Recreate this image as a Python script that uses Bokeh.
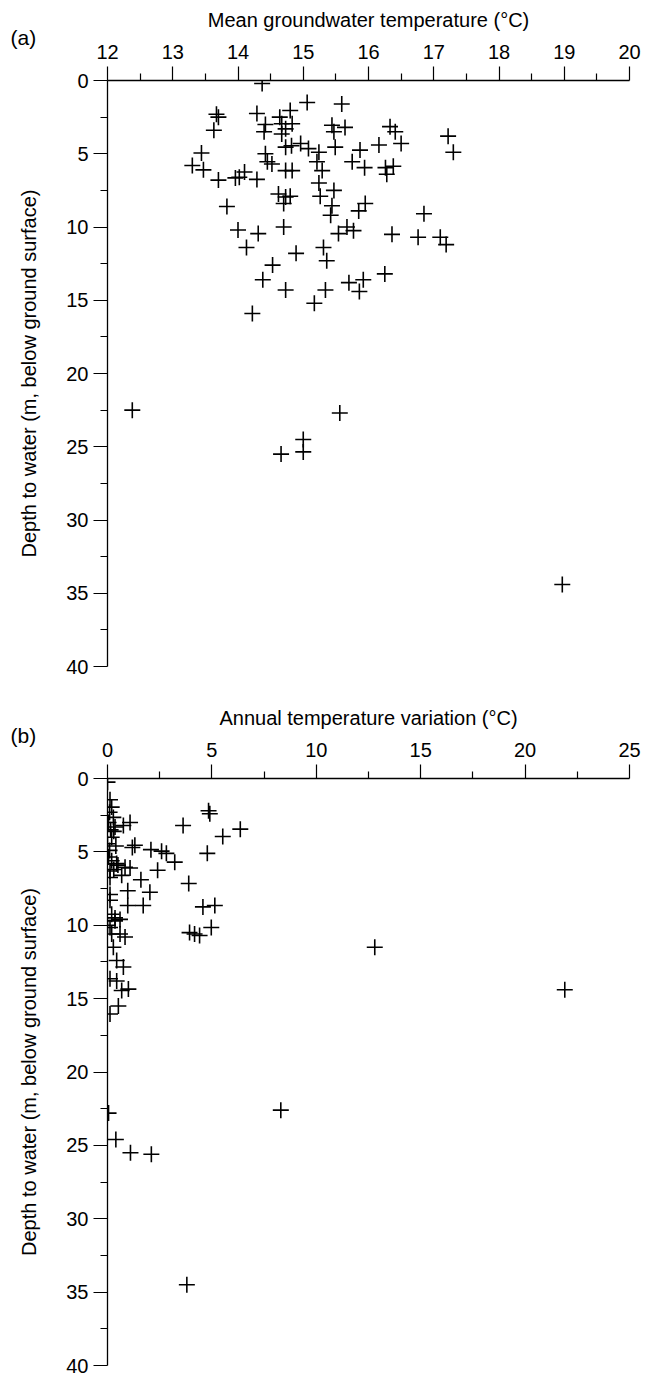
from bokeh.plotting import figure
from bokeh.models import Range1d, FixedTicker, Title
from bokeh.layouts import column
from bokeh.embed import file_html
from bokeh.resources import INLINE

# ---------------- data ----------------
# Panel (a): mean groundwater temperature (deg C) vs depth to water (m)
temp_mean = [14.37, 15.06, 15.59, 13.67, 13.70, 13.63, 14.29, 14.42, 14.40, 14.64,
             14.67, 14.73, 14.80, 14.67, 14.83, 15.44, 15.64, 15.47, 15.49, 15.87,
             16.16, 16.33, 16.41, 16.50, 17.22, 17.30, 13.44, 13.30, 13.47, 13.70,
             13.96, 14.02, 14.10, 14.29, 14.42, 14.45, 14.52, 14.73, 14.83, 14.73,
             14.82, 14.96, 15.08, 15.24, 15.21, 15.29, 15.75, 15.94, 16.26, 16.28,
             16.38, 15.24, 15.26, 15.47, 14.62, 14.73, 14.80, 14.70, 13.83, 15.44,
             15.42, 15.95, 15.85, 16.85, 14.00, 14.31, 14.70, 15.67, 15.77, 15.54,
             16.36, 16.76, 17.10, 17.19, 14.13, 14.89, 15.31, 15.36, 14.53, 14.38,
             14.73, 15.17, 15.34, 14.22, 16.25, 15.70, 15.92, 15.86, 12.38, 15.56,
             14.66, 15.00, 15.00, 18.97]
depth_a = [0.2, 1.5, 1.6, 2.3, 2.5, 3.4, 2.25, 3.0, 3.5, 2.5,
           2.95, 3.3, 2.05, 3.65, 2.95, 3.05, 3.2, 3.5, 4.55, 4.75,
           4.4, 3.15, 3.5, 4.3, 3.8, 4.9, 4.95, 5.8, 6.1, 6.8,
           6.65, 6.6, 6.25, 6.75, 5.0, 5.55, 5.7, 6.15, 6.15, 4.55,
           4.45, 4.3, 4.65, 4.9, 5.55, 6.15, 5.55, 5.95, 5.95, 6.4,
           5.85, 7.0, 7.9, 7.5, 7.75, 7.95, 7.9, 8.4, 8.6, 8.55,
           9.2, 8.4, 8.9, 9.1, 10.2, 10.45, 10.0, 10.0, 10.25, 10.45,
           10.5, 10.7, 10.7, 11.2, 11.4, 11.8, 11.4, 12.3, 12.6, 13.6,
           14.3, 15.2, 14.3, 15.9, 13.2, 13.8, 13.6, 14.4, 22.5, 22.7,
           25.5, 24.5, 25.35, 34.4]

# Panel (b): annual temperature variation (deg C) vs depth to water (m)
temp_var = [0.0, 0.12, 0.2, 0.28, 0.1, 0.05, 0.36, 0.76, 1.08, 0.3,
            0.15, 0.2, 0.0, 0.4, 1.19, 1.31, 0.05, 0.2, 0.44, 0.1,
            0.84, 1.08, 0.12, 0.12, 0.68, 0.3, 0.5, 4.84, 4.9, 3.62,
            6.36, 5.52, 4.78, 2.08, 2.59, 2.82, 3.22, 2.40, 1.6, 3.89,
            2.03, 0.97, 0.12, 0.12, 0.97, 1.71, 4.57, 5.14, 0.2, 0.36,
            0.36, 0.6, 0.0, 0.12, 0.2, 0.6, 0.84, 3.93, 4.17, 4.41,
            4.97, 0.28, 12.8, 0.44, 0.76, 0.12, 0.44, 1.0, 0.68, 0.52,
            0.12, 21.9, 0.05, 0.4, 1.1, 2.1, 8.3, 3.8]
depth_b = [0.25, 1.45, 1.95, 2.65, 2.3, 3.0, 3.3, 3.2, 3.0, 3.6,
           3.5, 4.0, 4.45, 4.6, 4.7, 4.55, 5.35, 5.6, 5.8, 4.9,
           6.05, 6.1, 6.3, 6.75, 6.6, 6.2, 5.9, 2.2, 2.4, 3.2,
           3.45, 3.95, 5.1, 4.85, 4.95, 5.1, 5.7, 6.25, 6.9, 7.15,
           7.75, 7.65, 7.9, 8.3, 8.65, 8.65, 8.75, 8.65, 9.25, 9.5,
           9.7, 9.6, 10.0, 10.15, 10.6, 10.6, 10.8, 10.5, 10.6, 10.7,
           10.15, 11.5, 11.5, 12.4, 12.85, 13.65, 13.8, 14.35, 14.45, 15.5,
           16.05, 14.4, 22.8, 24.6, 25.5, 25.6, 22.6, 34.5]

depth_ticks = [0, 5, 10, 15, 20, 25, 30, 35, 40]
depth_minor = [2.5, 7.5, 12.5, 17.5, 22.5, 27.5, 32.5, 37.5]
a_ticks = [12, 13, 14, 15, 16, 17, 18, 19, 20]
a_minor = [12.5, 13.5, 14.5, 15.5, 16.5, 17.5, 18.5, 19.5]
b_ticks = [0, 5, 10, 15, 20, 25]
b_minor = [2.5, 7.5, 12.5, 17.5, 22.5]

FONT = "Liberation Sans"


def panel(xs, ys, xr, ticks, minor, xtitle, tag, height, top, bottom):
    p = figure(width=653, height=height, output_backend="svg", toolbar_location=None,
               title=None,
               x_range=Range1d(xr[0], xr[1]), y_range=Range1d(40, 0),
               x_axis_location="above", y_axis_location="left",
               min_border_left=107, min_border_right=24,
               min_border_top=top, min_border_bottom=bottom)
    p.outline_line_color = None
    p.grid.visible = False
    p.background_fill_color = "white"
    p.border_fill_color = "white"

    xa = p.xaxis[0]
    xa.ticker = FixedTicker(ticks=ticks, minor_ticks=minor)
    ya = p.yaxis[0]
    ya.ticker = FixedTicker(ticks=depth_ticks, minor_ticks=depth_minor)
    ya.axis_label = "Depth to water (m, below ground surface)"
    for ax in (xa, ya):
        ax.axis_line_color = "black"
        ax.axis_line_width = 1.3
        ax.major_tick_line_color = "black"
        ax.minor_tick_line_color = "black"
        ax.major_tick_line_width = 1.2
        ax.minor_tick_line_width = 1.2
        ax.major_tick_in = 0
        ax.major_tick_out = 14
        ax.minor_tick_in = 0
        ax.minor_tick_out = 7
        ax.major_label_text_font = FONT
        ax.major_label_text_font_size = "20px"
        ax.major_label_text_color = "black"
        ax.axis_label_text_font = FONT
        ax.axis_label_text_font_size = "20px"
        ax.axis_label_text_font_style = "normal"
        ax.axis_label_text_color = "black"
    xa.major_label_standoff = 8
    ya.major_label_standoff = 5
    ya.axis_label_standoff = 23

    p.scatter(xs, ys, marker="cross", size=16, line_width=1.6, line_color="black")

    # panel tag, sitting between the axis title row and the tick labels
    tag_title = Title(text=tag, align="left", vertical_align="middle", offset=-97,
                      standoff=-16, text_font=FONT, text_font_size="21px",
                      text_font_style="normal", text_color="black")
    p.add_layout(tag_title, "above")
    # axis title row
    main_title = Title(text=xtitle, align="center", vertical_align="bottom",
                       standoff=4, text_font=FONT, text_font_size="20px",
                       text_font_style="normal", text_color="black")
    p.add_layout(main_title, "above")
    return p


p1 = panel(temp_mean, depth_a, (12, 20), a_ticks, a_minor,
           "Mean groundwater temperature (°C)", "(a)", 688, 80, 22)
p2 = panel(temp_var, depth_b, (0, 25), b_ticks, b_minor,
           "Annual temperature variation (°C)", "(b)", 689, 90, 12)

layout = column(p1, p2, spacing=0)
open("out.html", "w").write(file_html(layout, INLINE))
